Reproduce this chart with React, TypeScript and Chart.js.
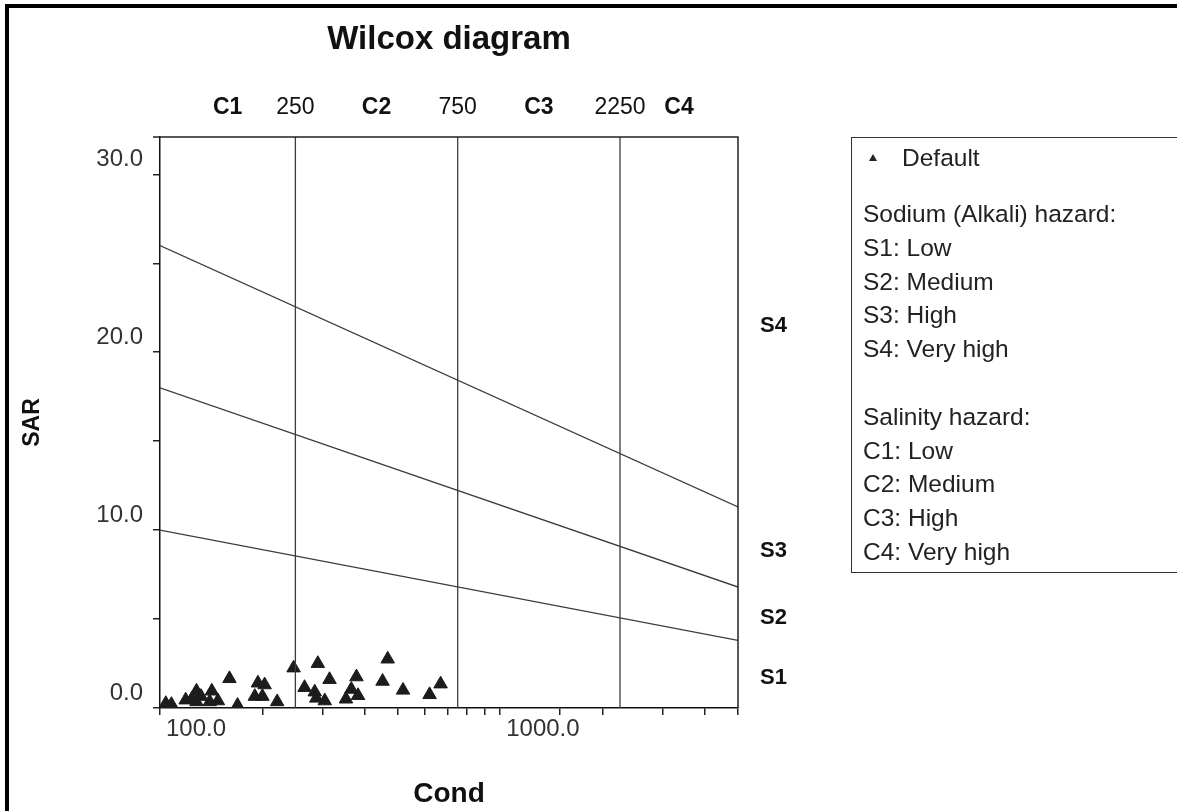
import React, { useEffect, useRef } from "react";
import { Chart, registerables } from "chart.js";

Chart.register(...registerables);

// ---- data ----
const COND = [104, 108, 119, 124, 128, 128, 132, 142, 140, 148, 160, 169, 194, 203, 190, 200, 221, 247, 266, 291, 285, 288, 305, 315, 352, 365, 378, 382, 451, 467, 518, 620, 668];
const SAR = [0.25, 0.2, 0.45, 0.5, 0.95, 0.35, 0.65, 0.95, 0.35, 0.4, 1.65, 0.15, 1.4, 1.3, 0.65, 0.65, 0.35, 2.25, 1.15, 2.5, 0.9, 0.55, 0.4, 1.6, 0.5, 1.05, 1.75, 0.7, 1.5, 2.75, 1.0, 0.75, 1.35];

const X_MIN = 100;
const X_MAX = 5000;
const Y_MIN = 0;
const Y_MAX = 32.1;

// salinity class boundaries (Cond)
const CLASS_BOUNDS = [250, 750, 2250];
const CLASS_LABELS = ["C1", "C2", "C3", "C4"];
// sodium hazard boundary lines: SAR at Cond = X_MIN and at Cond = X_MAX
const SAR_LEFT = [10, 18, 26];
const SAR_RIGHT = [3.8, 6.8, 11.3];
const S_LABELS = ["S1", "S2", "S3", "S4"];

const X_LABEL_VALUES = [100, 1000];
const Y_LABEL_STEP = 10;

const TITLE = "Wilcox diagram";
const X_TITLE = "Cond";
const Y_TITLE = "SAR";
const SERIES_NAME = "Default";
const LEGEND_SODIUM_TITLE = "Sodium (Alkali) hazard:";
const LEGEND_SODIUM = ["S1: Low", "S2: Medium", "S3: High", "S4: Very high"];
const LEGEND_SALINITY_TITLE = "Salinity hazard:";
const LEGEND_SALINITY = ["C1: Low", "C2: Medium", "C3: High", "C4: Very high"];

const FONT = '"Liberation Sans", Arial, Helvetica, sans-serif';

// top axis ticks: class label at geometric middle of each class, boundary value at each boundary
const allBounds = [X_MIN, ...CLASS_BOUNDS, X_MAX];
const TOP_TICK_VALUES: number[] = [];
const TOP_TICK_LABELS: string[] = [];
CLASS_LABELS.forEach((lab, i) => {
  TOP_TICK_VALUES.push(Math.sqrt(allBounds[i] * allBounds[i + 1]));
  TOP_TICK_LABELS.push(lab);
  if (i < CLASS_BOUNDS.length) {
    TOP_TICK_VALUES.push(CLASS_BOUNDS[i]);
    TOP_TICK_LABELS.push(String(CLASS_BOUNDS[i]));
  }
});

const framePlugin = {
  id: "wilcoxFrame",
  afterDatasetsDraw(chart: any) {
    const { ctx, chartArea, scales } = chart;
    const { left, right, top, bottom } = chartArea;
    ctx.save();
    ctx.strokeStyle = "#222";
    ctx.lineWidth = 1.5;
    ctx.beginPath();
    ctx.moveTo(left - 7, top);
    ctx.lineTo(right, top);
    ctx.lineTo(right, bottom);
    ctx.stroke();

    const ys = scales.y;
    ctx.fillStyle = "#111";
    ctx.font = `bold 22px ${FONT}`;
    ctx.textAlign = "left";
    ctx.textBaseline = "middle";
    const b = [Y_MIN, ...SAR_RIGHT, Y_MAX];
    S_LABELS.forEach((lab, i) => {
      const mid = (b[i] + b[i + 1]) / 2;
      ctx.fillText(lab, right + 22, ys.getPixelForValue(mid) + 4);
    });
    ctx.restore();
  },
};

export default function App() {
  const ref = useRef<HTMLCanvasElement | null>(null);

  useEffect(() => {
    if (!ref.current) return;
    const lineStyle = {
      type: "line" as const,
      showLine: true,
      pointRadius: 0,
      borderColor: "#3c3c3c",
      borderWidth: 1.3,
      fill: false,
    };
    const datasets: any[] = [];
    SAR_LEFT.forEach((v, i) => {
      datasets.push({
        ...lineStyle,
        label: "S boundary " + (i + 1),
        data: [
          { x: X_MIN, y: v },
          { x: X_MAX, y: SAR_RIGHT[i] },
        ],
      });
    });
    CLASS_BOUNDS.forEach((c, i) => {
      datasets.push({
        ...lineStyle,
        label: "C boundary " + (i + 1),
        data: [
          { x: c, y: Y_MIN },
          { x: c, y: Y_MAX },
        ],
      });
    });
    datasets.push({
      type: "scatter",
      label: SERIES_NAME,
      data: COND.map((x, i) => ({ x, y: SAR[i] })),
      pointStyle: "triangle",
      pointRadius: 7.8,
      backgroundColor: "#1c1c1c",
      borderColor: "#1c1c1c",
      borderWidth: 1,
      showLine: false,
    });

    const chart = new Chart(ref.current, {
      type: "scatter",
      data: { datasets },
      plugins: [framePlugin],
      options: {
        responsive: false,
        animation: false,
        layout: { padding: { left: 0, right: 439, top: 0, bottom: 0 } },
        plugins: {
          legend: { display: false },
          tooltip: { enabled: false },
          title: {
            display: true,
            text: TITLE,
            fullSize: false,
            color: "#111",
            font: { family: FONT, size: 33, weight: "bold" },
            padding: { top: 20, bottom: 0 },
          },
        },
        scales: {
          x: {
            type: "logarithmic",
            position: "bottom",
            min: X_MIN,
            max: X_MAX,
            afterFit: (s: any) => {
              s.height = 103;
            },
            border: { display: true, color: "#111", width: 1.5 },
            grid: { drawOnChartArea: false, drawTicks: true, tickLength: 7, color: "#222", lineWidth: 1.5 },
            ticks: {
              autoSkip: false,
              maxRotation: 0,
              minRotation: 0,
              align: "start",
              labelOffset: 6,
              padding: 0,
              color: "#333",
              font: { family: FONT, size: 24 },
              callback: (v: any) => (X_LABEL_VALUES.includes(Number(v)) ? Number(v).toFixed(1) : ""),
            },
            title: {
              display: true,
              text: X_TITLE,
              color: "#111",
              font: { family: FONT, size: 28, weight: "bold" },
              padding: { top: 0, bottom: 0 },
            },
          },
          x2: {
            type: "logarithmic",
            position: "top",
            min: X_MIN,
            max: X_MAX,
            afterFit: (s: any) => {
              s.height = 77.4;
            },
            afterBuildTicks: (s: any) => {
              s.ticks = TOP_TICK_VALUES.map((v) => ({ value: v }));
            },
            grid: { display: false },
            border: { display: false },
            ticks: {
              autoSkip: false,
              maxRotation: 0,
              minRotation: 0,
              padding: 8,
              color: "#111",
              font: (c: any) => ({ family: FONT, size: 23, weight: c.index % 2 === 0 ? "bold" : "normal" }),
              callback: (_v: any, i: number) => TOP_TICK_LABELS[i],
            },
          },
          y: {
            type: "linear",
            min: Y_MIN,
            max: Y_MAX,
            afterFit: (s: any) => {
              s.width = 160;
            },
            border: { display: true, color: "#111", width: 1.5 },
            grid: { drawOnChartArea: false, drawTicks: true, tickLength: 7, color: "#222", lineWidth: 1.5 },
            ticks: {
              stepSize: 5,
              includeBounds: false,
              align: "end",
              labelOffset: -3,
              padding: 10,
              color: "#333",
              font: { family: FONT, size: 24 },
              callback: (v: any) => (Number(v) % Y_LABEL_STEP === 0 ? Number(v).toFixed(1) : ""),
            },
            title: {
              display: true,
              text: Y_TITLE,
              color: "#111",
              font: { family: FONT, size: 23, weight: "bold" },
              padding: { top: 19, bottom: 0 },
            },
          },
        },
      } as any,
    });
    return () => chart.destroy();
  }, []);

  const textStyle = (top: number, left: number): React.CSSProperties => ({
    position: "absolute",
    left,
    top: top - 15,
    height: 30,
    lineHeight: "30px",
    fontFamily: FONT,
    fontSize: 24.5,
    color: "#222",
    whiteSpace: "nowrap",
  });

  const rowStart = 214;
  const rowStep = 33.8;
  const rows: string[] = [LEGEND_SODIUM_TITLE, ...LEGEND_SODIUM, "", LEGEND_SALINITY_TITLE, ...LEGEND_SALINITY];

  return (
    <div
      style={{
        position: "fixed",
        left: 0,
        top: 0,
        width: 1177,
        height: 811,
        overflow: "hidden",
        background: "#fff",
      }}
    >
      <canvas
        ref={ref}
        width={1177}
        height={811}
        style={{ position: "absolute", left: 0, top: 0, width: 1177, height: 811 }}
      />
      <div
        style={{
          position: "absolute",
          left: 5,
          top: 4,
          right: 0,
          bottom: 0,
          borderLeft: "4px solid #000",
          borderTop: "4px solid #000",
          pointerEvents: "none",
        }}
      />
      <div
        style={{
          position: "absolute",
          left: 851,
          top: 137,
          width: 400,
          height: 434,
          border: "1.5px solid #333",
        }}
      />
      <div
        style={{
          position: "absolute",
          left: 869,
          top: 154,
          width: 0,
          height: 0,
          borderLeft: "4px solid transparent",
          borderRight: "4px solid transparent",
          borderBottom: "7px solid #222",
        }}
      />
      <div style={textStyle(158, 902)}>{SERIES_NAME}</div>
      {rows.map((t, i) =>
        t ? (
          <div key={i} style={textStyle(rowStart + i * rowStep, 863)}>
            {t}
          </div>
        ) : null
      )}
    </div>
  );
}
